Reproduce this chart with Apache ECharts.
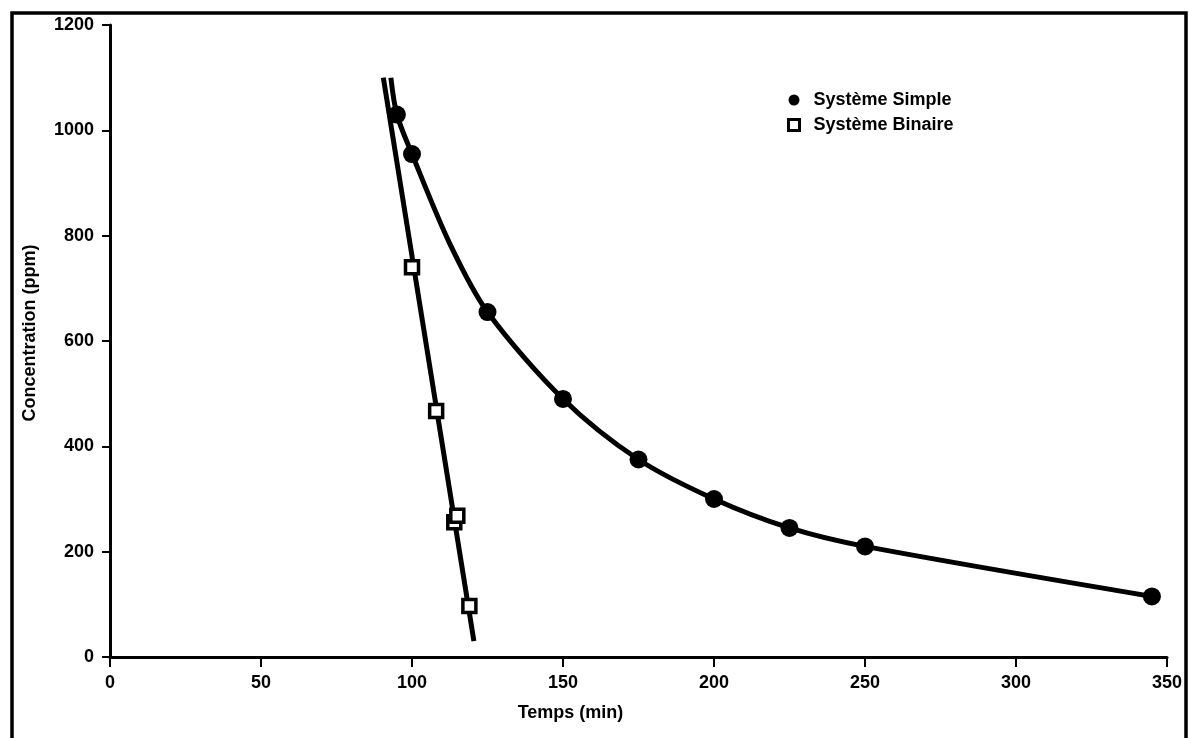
<!DOCTYPE html>
<html>
<head>
<meta charset="utf-8">
<script src="https://cdn.jsdelivr.net/npm/echarts@6/dist/echarts.min.js"></script>
<style>
  html, body { margin: 0; padding: 0; background: #fff; }
  #chart { width: 1189px; height: 738px; }
</style>
</head>
<body>
<div id="chart"></div>
<script>
// Measured points: concentration vs time
const simpleTime = [95, 100, 125, 150, 175, 200, 225, 250, 345];
const simpleConc = [1030, 955, 655, 490, 375, 300, 245, 210, 115];

const binaryTime = [100, 108, 114, 115, 119];
const binaryConc = [740, 467, 256, 268, 97];

// Fitted curves as traced through the data
const simpleFitTime = [93, 95, 100, 112.5, 125, 150, 175, 200, 225, 250, 345];
const simpleFitConc = [1100, 1030, 955, 785, 655, 490, 375, 300, 245, 210, 115];

const binaryFitTime = [90.5, 120.5];
const binaryFitConc = [1100, 30];

const xTicks = { min: 0, max: 350, interval: 50 };
const yTicks = { min: 0, max: 1200, interval: 200 };

const pairs = (xs, ys) => xs.map((x, i) => [x, ys[i]]);

const FONT = '"Liberation Sans", Arial, sans-serif';
const tickFont = { color: '#000', fontFamily: FONT, fontWeight: 'bold', fontSize: 18 };
const nameFont = { color: '#000', fontFamily: FONT, fontWeight: 'bold', fontSize: 18 };

const chart = echarts.init(document.getElementById('chart'), null, { renderer: 'canvas' });

chart.setOption({
  animation: false,
  backgroundColor: '#fff',
  grid: { left: 110, right: 22, top: 25, bottom: 81 },
  legend: {
    orient: 'vertical',
    left: 782,
    top: 86,
    itemGap: 7,
    itemWidth: 11,
    itemHeight: 11,
    textStyle: { color: '#000', fontFamily: FONT, fontWeight: 'bold', fontSize: 18, padding: [0, 0, 0, 9] },
    data: [
      { name: 'Système Simple', icon: 'circle', itemStyle: { color: '#000', opacity: 1 } },
      { name: 'Système Binaire', icon: 'rect',
        itemStyle: { color: '#fff', borderColor: '#000', borderWidth: 3, opacity: 1 } }
    ]
  },
  xAxis: {
    type: 'value',
    min: xTicks.min, max: xTicks.max, interval: xTicks.interval,
    name: 'Temps (min)',
    nameLocation: 'middle',
    nameGap: 47,
    nameTextStyle: Object.assign({ padding: [0, 136, 0, 0] }, nameFont),
    axisLine: { show: true, onZero: false, lineStyle: { color: '#000', width: 3 } },
    axisTick: { show: true, inside: false, length: 10, lineStyle: { color: '#000', width: 2 } },
    axisLabel: Object.assign({ margin: 17, formatter: v => String(v) }, tickFont),
    splitLine: { show: false }
  },
  yAxis: {
    type: 'value',
    min: yTicks.min, max: yTicks.max, interval: yTicks.interval,
    name: 'Concentration (ppm)',
    nameLocation: 'middle',
    nameGap: 71,
    nameRotate: 90,
    nameTextStyle: Object.assign({ padding: [0, 0, 0, 16] }, nameFont),
    axisLine: { show: true, onZero: false, lineStyle: { color: '#000', width: 3 } },
    axisTick: { show: true, inside: false, length: 8, lineStyle: { color: '#000', width: 2 } },
    axisLabel: Object.assign({ margin: 16, formatter: v => String(v) }, tickFont),
    splitLine: { show: false }
  },
  series: [
    {
      name: 'fit-simple',
      type: 'line',
      smooth: 0.3,
      showSymbol: false,
      symbol: 'none',
      data: pairs(simpleFitTime, simpleFitConc),
      lineStyle: { color: '#000', width: 5 },
      z: 2
    },
    {
      name: 'fit-binaire',
      type: 'line',
      showSymbol: false,
      symbol: 'none',
      data: pairs(binaryFitTime, binaryFitConc),
      lineStyle: { color: '#000', width: 5 },
      z: 2
    },
    {
      name: 'Système Simple',
      type: 'scatter',
      symbol: 'circle',
      symbolSize: 18,
      data: pairs(simpleTime, simpleConc),
      itemStyle: { color: '#000', opacity: 1 },
      z: 5
    },
    {
      name: 'Système Binaire',
      type: 'scatter',
      symbol: 'rect',
      symbolSize: 13,
      data: pairs(binaryTime, binaryConc),
      itemStyle: { color: '#fff', borderColor: '#000', borderWidth: 3.5, opacity: 1 },
      z: 6
    }
  ],
  graphic: [
    {
      type: 'polyline',
      shape: { points: [[12, 738], [12, 13], [1186, 13], [1186, 738]] },
      style: { stroke: '#000', lineWidth: 3.5, fill: null },
      z: 10
    }
  ]
});
</script>
</body>
</html>
